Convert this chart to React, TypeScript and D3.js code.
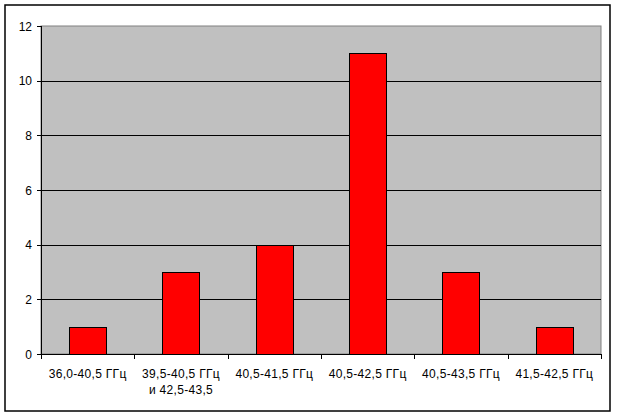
import React from "react";
import * as d3 from "d3";

const categories: string[][] = [
  ["36,0-40,5 ГГц"],
  ["39,5-40,5 ГГц", "и 42,5-43,5"],
  ["40,5-41,5 ГГц"],
  ["40,5-42,5 ГГц"],
  ["40,5-43,5 ГГц"],
  ["41,5-42,5 ГГц"],
];
const values: number[] = [1, 3, 4, 11, 3, 1];
const yTicks: number[] = [0, 2, 4, 6, 8, 10, 12];

const W = 617;
const H = 418;
const left = 41;
const right = 601;
const top = 26;
const bottom = 354;

export default function App() {
  const keys = categories.map((_, i) => String(i));
  const x = d3.scaleBand<string>().domain(keys).range([left, right]).paddingInner(0).paddingOuter(0);
  const y = d3.scaleLinear().domain([0, 12]).range([bottom, top]);
  const bw = x.bandwidth();
  const barW = bw / 2.5;
  const font = "Arial, 'Liberation Sans', sans-serif";

  return (
    <svg
      width={W}
      height={H}
      style={{ position: "absolute", left: 0, top: 0, background: "#fff" }}
    >
      <rect x={5} y={5} width={605} height={406} fill="#fff" stroke="#000" strokeWidth={1.5} />
      <rect x={left} y={top} width={right - left} height={bottom - top} fill="#C0C0C0" stroke="#808080" strokeWidth={1} />
      {yTicks.filter((t) => t > 0 && t < 12).map((t) => (
        <line key={"g" + t} x1={left} x2={right} y1={Math.round(y(t)) + 0.5} y2={Math.round(y(t)) + 0.5} stroke="#000" strokeWidth={1} />
      ))}
      {values.map((v, i) => {
        const cx = (x(String(i)) as number) + bw / 2;
        return (
          <rect
            key={"b" + i}
            x={Math.round(cx - barW / 2) + 0.5}
            y={Math.round(y(v)) + 0.5}
            width={Math.round(barW)}
            height={Math.round(y(0)) - Math.round(y(v))}
            fill="#FF0000"
            stroke="#000"
            strokeWidth={1}
          />
        );
      })}
      {/* axes */}
      <line x1={left + 0.5} x2={left + 0.5} y1={top} y2={bottom + 0.5} stroke="#000" strokeWidth={1} />
      <line x1={left} x2={right} y1={bottom + 0.5} y2={bottom + 0.5} stroke="#000" strokeWidth={1} />
      {yTicks.map((t) => (
        <g key={"y" + t}>
          <line x1={left - 4} x2={left} y1={Math.round(y(t)) + 0.5} y2={Math.round(y(t)) + 0.5} stroke="#000" strokeWidth={1} />
          <text x={32} y={y(t) + 4.5} textAnchor="end" fontFamily={font} fontSize={12} fill="#000">
            {t}
          </text>
        </g>
      ))}
      {keys.concat(["end"]).map((k, i) => {
        const xx = i < keys.length ? (x(k) as number) : right;
        return (
          <line key={"xt" + i} x1={Math.round(xx) + 0.5} x2={Math.round(xx) + 0.5} y1={bottom} y2={bottom + 5} stroke="#000" strokeWidth={1} />
        );
      })}
      {categories.map((lines, i) => {
        const cx = (x(String(i)) as number) + bw / 2;
        return (
          <text key={"xl" + i} textAnchor="middle" fontFamily={font} fontSize={12} fill="#000" letterSpacing={0.3}>
            {lines.map((ln, j) => (
              <tspan key={j} x={cx} y={378 + j * 16}>
                {ln}
              </tspan>
            ))}
          </text>
        );
      })}
    </svg>
  );
}
